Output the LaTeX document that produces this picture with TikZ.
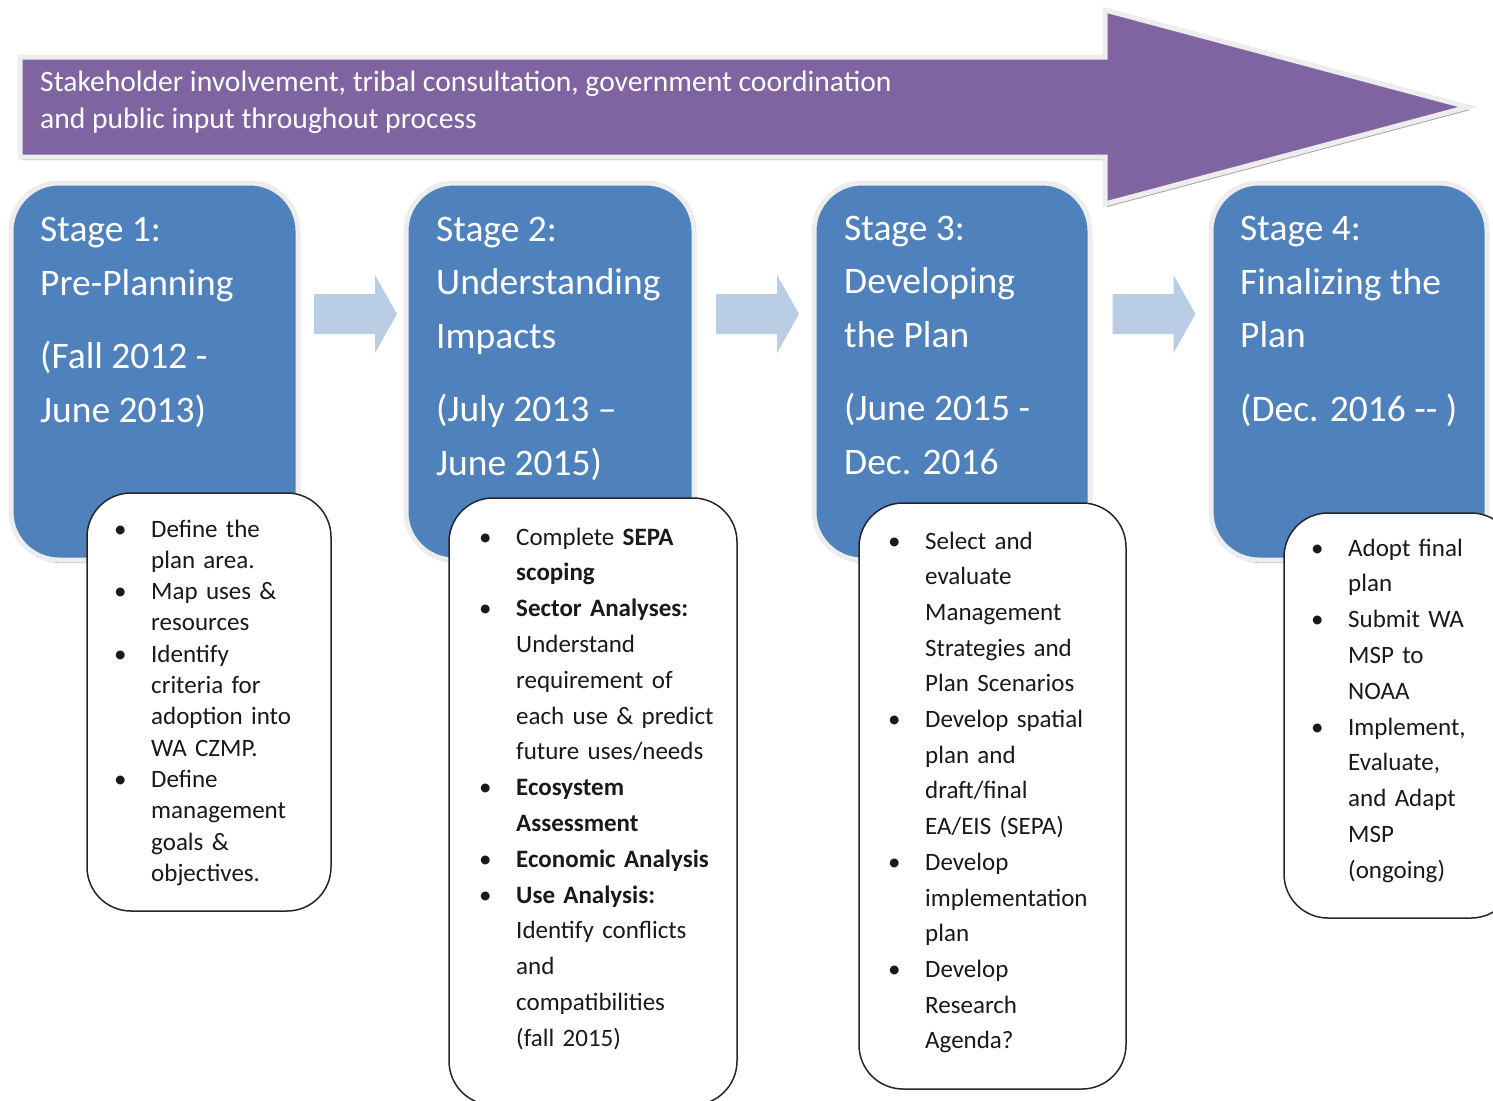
\documentclass[tikz,border=0pt]{standalone}
\usepackage{fontspec}
\setmainfont{Carlito}
\usepackage{tikz}
\usetikzlibrary{positioning}
\usetikzlibrary{calc}
\usetikzlibrary{shadows}

\definecolor{stageblue}{HTML}{4F81BD}
\definecolor{processpurple}{HTML}{8064A2}
\definecolor{steparrow}{HTML}{B9CDE5}
\definecolor{rimgray}{HTML}{EDEDED}
\definecolor{shadowgray}{HTML}{A3A3A3}

% one bullet item, hanging indent for wrapped lines
\newcommand{\bul}[1]{\noindent\hangindent=37pt\hangafter=1\makebox[37pt][l]{\textbullet}#1\par}

\tikzset{
    rimshadow/.style={drop shadow={shadow xshift=2pt, shadow yshift=-3pt, fill=shadowgray, opacity=1}},
    stagebox/.style={draw=rimgray, line width=5pt, fill=stageblue, rounded corners=48pt, inner sep=0pt, outer sep=0pt, anchor=north west, minimum height=377pt, rimshadow},
    % base of a multi-line node is its last line
    stagetext/.style={anchor=base west, align=left, text=white, inner sep=0pt, font=\fontsize{37.5}{53.5}\selectfont},
    taskbox/.style={draw=black!85, line width=1.5pt, fill=white, rounded corners=44pt, inner sep=0pt, outer sep=0pt, anchor=north west},
    tasktext/.style={anchor=base west, align=left, inner sep=0pt, text=black!90},
}

\begin{document}
\begin{tikzpicture}[x=1pt, y=-1pt]
    \clip (0,0) rectangle (1493,1100);

    % process arrow along the top
    \draw[draw=rimgray, line width=5pt, fill=processpurple, rimshadow]
        (20,57) -- (1105,57) -- (1105,10) -- (1468,107) -- (1105,204) -- (1105,157) -- (20,157) -- cycle;
    \node[anchor=base west, align=left, text=white, inner sep=0pt, font=\fontsize{29.6}{37}\selectfont] (involve) at (40,128)
        {Stakeholder involvement, tribal consultation, government coordination\\and public input throughout process};

    % stages
    \node[stagebox, minimum width=287pt] (s1) at (11,183) {};
    \node[stagebox, minimum width=288pt] (s2) at (406,183) {};
    \node[stagebox, minimum width=276pt] (s3) at (814,183) {};
    \node[stagebox, minimum width=276pt] (s4) at (1211,183) {};

    \node[stagetext] (s1t) at ($(s1.north west)+(29,239)$) {Stage 1:\\Pre-Planning\\[20pt](Fall 2012 -\\June 2013)};
    \node[stagetext] (s2t) at ($(s2.north west)+(30,292)$) {Stage 2:\\Understanding\\Impacts\\[20pt](July 2013 –\\June 2015)};
    \node[stagetext] (s3t) at ($(s3.north west)+(30,291)$) {Stage 3:\\Developing\\the Plan\\[20pt](June 2015 -\\Dec. 2016};
    \node[stagetext] (s4t) at ($(s4.north west)+(29,238)$) {Stage 4:\\Finalizing the\\Plan\\[20pt](Dec. 2016 -{}- )};

    % block arrows between stages
    \foreach \a/\b in {s1/s2, s2/s3, s3/s4} {
        \fill[steparrow] ($(\a.north east)!0.5!(\b.north west)+(0,131)$)
            ++(-38,-20) -- ++(61,0) -- ++(0,-19) -- ++(22,39) -- ++(-22,39) -- ++(0,-19) -- ++(-61,0) -- cycle;
    }

    % tasks of each stage
    \node[taskbox, minimum width=244pt, minimum height=418pt] (b1) at (87,493) {};
    \node[taskbox, minimum width=288pt, minimum height=607pt] (b2) at (449,498) {};
    \node[taskbox, minimum width=267pt, minimum height=586pt] (b3) at (859,503) {};
    \node[taskbox, minimum width=231pt, minimum height=405pt] (b4) at (1284,513) {};

    \node[tasktext, text width=210pt, font=\fontsize{25}{31.3}\selectfont] (b1t) at ($(b1.north west)+(27,44)$)
        {\bul{Define the\newline plan area.}\bul{Map uses \&\newline resources}\bul{Identify\newline criteria for\newline adoption into\newline WA CZMP.}\bul{Define\newline management\newline goals \&\newline objectives.}};
    \node[tasktext, text width=250pt, font=\fontsize{25}{35.8}\selectfont] (b2t) at ($(b2.north west)+(30,47)$)
        {\bul{Complete \textbf{SEPA}\newline\textbf{scoping}}\bul{\textbf{Sector Analyses:}\newline Understand\newline requirement of\newline each use \& predict\newline future uses/needs}\bul{\textbf{Ecosystem}\newline\textbf{Assessment}}\bul{\textbf{Economic Analysis}}\bul{\textbf{Use Analysis:}\newline Identify conflicts\newline and\newline compatibilities\newline (fall 2015)}};
    \node[tasktext, text width=225pt, font=\fontsize{25}{35.7}\selectfont] (b3t) at ($(b3.north west)+(29,46)$)
        {\bul{Select and\newline evaluate\newline Management\newline Strategies and\newline Plan Scenarios}\bul{Develop spatial\newline plan and\newline draft/final\newline EA/EIS (SEPA)}\bul{Develop\newline implementation\newline plan}\bul{Develop\newline Research\newline Agenda?}};
    \node[tasktext, text width=190pt, font=\fontsize{25}{35.8}\selectfont] (b4t) at ($(b4.north west)+(27,43)$)
        {\bul{Adopt final\newline plan}\bul{Submit WA\newline MSP to\newline NOAA}\bul{Implement,\newline Evaluate,\newline and Adapt\newline MSP\newline (ongoing)}};
\end{tikzpicture}
\end{document}
